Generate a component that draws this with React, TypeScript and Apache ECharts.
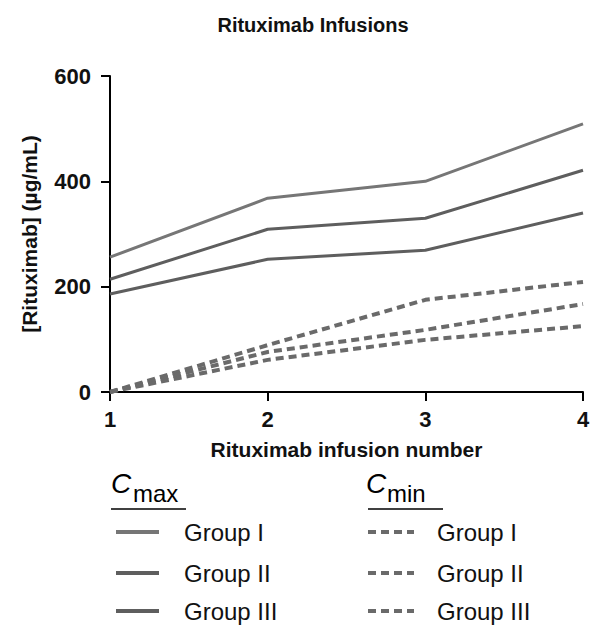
import React, { useEffect, useRef } from "react";
import * as echarts from "echarts";

const infusions = [1, 2, 3, 4];
const cmaxGroupI = [256, 368, 400, 509];
const cmaxGroupII = [214, 309, 330, 421];
const cmaxGroupIII = [186, 252, 269, 340];
const cminGroupI = [0, 89, 175, 209];
const cminGroupII = [0, 76, 118, 167];
const cminGroupIII = [0, 61, 99, 125];
const groupNames = ["Group I", "Group II", "Group III"];

const FONT = "'Liberation Sans', Arial, Helvetica, sans-serif";

export default function App() {
  const ref = useRef<HTMLDivElement>(null);
  useEffect(() => {
    document.body.style.margin = "0";
    const chart = echarts.init(ref.current!, null, { renderer: "svg" });
    const solidColors = ["#767676", "#5e5e5e", "#5e5e5e"];
    const dashColor = "#6a6a6a";
    const mk = (name: string, vals: number[], color: string, dashed: boolean) => ({
      name,
      type: "line",
      data: infusions.map((x, i) => [x, vals[i]]),
      showSymbol: false,
      symbol: "none",
      lineStyle: dashed
        ? { color, width: 4, type: [8, 5] }
        : { color, width: 3 },
      z: dashed ? 2 : 3,
    });
    const legendRowsY = [532, 573, 611];
    const graphic: any[] = [];
    // Cmax header
    graphic.push({ type: "text", x: 111, y: 483, style: { text: "C", font: `italic 28px ${FONT}`, fill: "#000", textVerticalAlign: "middle" } });
    graphic.push({ type: "text", x: 133, y: 493, style: { text: "max", font: `24px ${FONT}`, fill: "#000", textVerticalAlign: "middle" } });
    graphic.push({ type: "line", shape: { x1: 111, y1: 509, x2: 186, y2: 509 }, style: { stroke: "#000", lineWidth: 1.5 } });
    // Cmin header
    graphic.push({ type: "text", x: 366, y: 483, style: { text: "C", font: `italic 28px ${FONT}`, fill: "#000", textVerticalAlign: "middle" } });
    graphic.push({ type: "text", x: 387, y: 493, style: { text: "min", font: `24px ${FONT}`, fill: "#000", textVerticalAlign: "middle" } });
    graphic.push({ type: "line", shape: { x1: 368, y1: 509, x2: 443, y2: 509 }, style: { stroke: "#000", lineWidth: 1.5 } });
    groupNames.forEach((g, i) => {
      const y = legendRowsY[i];
      graphic.push({ type: "line", shape: { x1: 116, y1: y, x2: 159, y2: y }, style: { stroke: solidColors[i], lineWidth: 4 } });
      graphic.push({ type: "text", x: 184, y, style: { text: g, font: `24px ${FONT}`, fill: "#111", textVerticalAlign: "middle" } });
      graphic.push({ type: "line", shape: { x1: 368, y1: y, x2: 414, y2: y }, style: { stroke: dashColor, lineWidth: 4, lineDash: [8, 5] } });
      graphic.push({ type: "text", x: 437, y, style: { text: g, font: `24px ${FONT}`, fill: "#111", textVerticalAlign: "middle" } });
    });

    chart.setOption({
      animation: false,
      backgroundColor: "#fff",
      title: {
        text: "Rituximab Infusions",
        left: 308,
        top: 10,
        textAlign: "center",
        textStyle: { fontFamily: FONT, fontWeight: "bold", fontSize: 20, color: "#111" },
      },
      grid: { left: 110, right: 15, top: 76, bottom: 233, containLabel: false },
      xAxis: {
        type: "value",
        min: 1,
        max: 4,
        interval: 1,
        name: "Rituximab infusion number",
        nameLocation: "middle",
        nameGap: 47,
        nameTextStyle: { fontFamily: FONT, fontWeight: "bold", fontSize: 21, color: "#111" },
        axisLine: { show: true, lineStyle: { color: "#000", width: 2 } },
        axisTick: { show: true, length: 9, lineStyle: { color: "#000", width: 2 } },
        axisLabel: { fontFamily: FONT, fontWeight: "bold", fontSize: 22, color: "#111", margin: 16 },
        splitLine: { show: false },
      },
      yAxis: {
        type: "value",
        min: 0,
        max: 600,
        interval: 200,
        name: "[Rituximab] (µg/mL)",
        nameLocation: "middle",
        nameGap: 70,
        nameRotate: 90,
        nameTextStyle: { fontFamily: FONT, fontWeight: "bold", fontSize: 21, color: "#111" },
        axisLine: { show: true, lineStyle: { color: "#000", width: 2 } },
        axisTick: { show: true, length: 9, lineStyle: { color: "#000", width: 2 } },
        axisLabel: { fontFamily: FONT, fontWeight: "bold", fontSize: 22, color: "#111", margin: 19 },
        splitLine: { show: false },
      },
      series: [
        mk("Cmax Group I", cmaxGroupI, solidColors[0], false),
        mk("Cmax Group II", cmaxGroupII, solidColors[1], false),
        mk("Cmax Group III", cmaxGroupIII, solidColors[2], false),
        mk("Cmin Group I", cminGroupI, dashColor, true),
        mk("Cmin Group II", cminGroupII, dashColor, true),
        mk("Cmin Group III", cminGroupIII, dashColor, true),
      ],
      graphic,
    });
    return () => chart.dispose();
  }, []);
  return <div ref={ref} style={{ position: "absolute", left: 0, top: 0, width: 598, height: 625 }} />;
}
